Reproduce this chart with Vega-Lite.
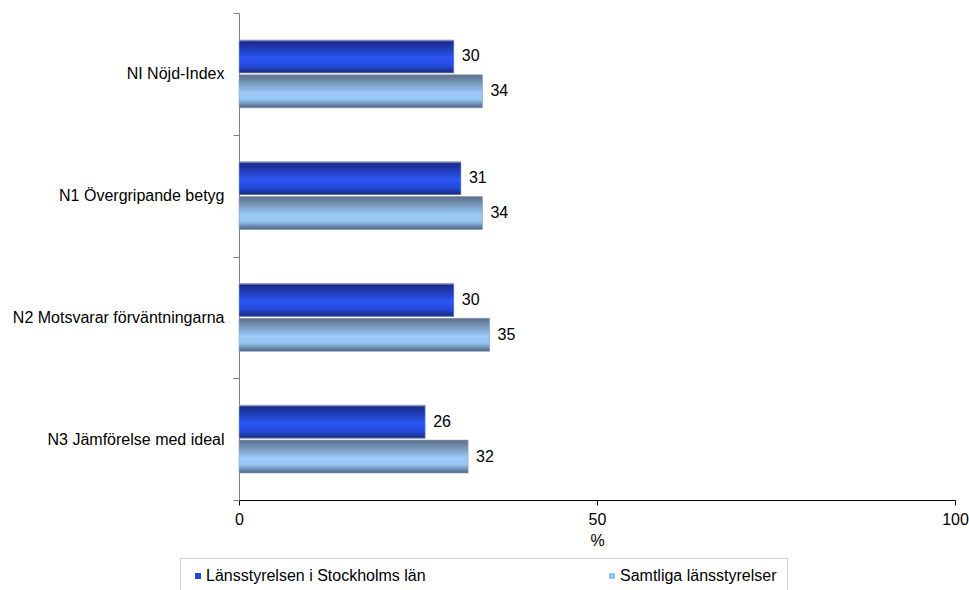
{
  "$schema": "https://vega.github.io/schema/vega-lite/v6.json",
  "width": 716,
  "height": 487,
  "autosize": {"type": "none"},
  "padding": {"left": 239, "top": 13, "right": 14, "bottom": 90},
  "background": "white",
  "config": {
    "font": "Liberation Sans",
    "view": {"stroke": null},
    "axis": {"labelFont": "Liberation Sans", "titleFont": "Liberation Sans"},
    "legend": {"labelFont": "Liberation Sans"}
  },
  "data": {
    "values": [
      {"fraga": "NI Nöjd-Index", "grupp": "Länsstyrelsen i Stockholms län", "procent": 30},
      {"fraga": "NI Nöjd-Index", "grupp": "Samtliga länsstyrelser", "procent": 34},
      {"fraga": "N1 Övergripande betyg", "grupp": "Länsstyrelsen i Stockholms län", "procent": 31},
      {"fraga": "N1 Övergripande betyg", "grupp": "Samtliga länsstyrelser", "procent": 34},
      {"fraga": "N2 Motsvarar förväntningarna", "grupp": "Länsstyrelsen i Stockholms län", "procent": 30},
      {"fraga": "N2 Motsvarar förväntningarna", "grupp": "Samtliga länsstyrelser", "procent": 35},
      {"fraga": "N3 Jämförelse med ideal", "grupp": "Länsstyrelsen i Stockholms län", "procent": 26},
      {"fraga": "N3 Jämförelse med ideal", "grupp": "Samtliga länsstyrelser", "procent": 32}
    ]
  },
  "encoding": {
    "y": {
      "field": "fraga",
      "type": "nominal",
      "sort": null,
      "title": null,
      "scale": {"paddingInner": 0, "paddingOuter": 0},
      "axis": {
        "tickBand": "extent",
        "domainColor": "#808080",
        "tickColor": "#808080",
        "tickSize": 6,
        "labelPadding": 9,
        "labelFontSize": 16,
        "labelColor": "#000000",
        "labelLimit": 300
      }
    },
    "yOffset": {
      "field": "grupp",
      "type": "nominal",
      "sort": null,
      "scale": {"paddingInner": 0.057, "paddingOuter": 0.771}
    },
    "x": {
      "field": "procent",
      "type": "quantitative",
      "title": "%",
      "scale": {"domain": [0, 100], "nice": false},
      "axis": {
        "values": [0, 50, 100],
        "grid": false,
        "labelFlush": false,
        "domainColor": "#000000",
        "tickColor": "#000000",
        "tickSize": 5,
        "labelFontSize": 16,
        "labelColor": "#000000",
        "labelPadding": 6,
        "titleFontSize": 16,
        "titleFontWeight": "normal",
        "titleColor": "#000000",
        "titlePadding": 5
      }
    }
  },
  "layer": [
    {
      "mark": {"type": "bar"},
      "encoding": {
        "color": {
          "field": "grupp",
          "type": "nominal",
          "sort": null,
          "title": null,
          "scale": {"range": ["#2448d8", "#96c2f0"]},
          "legend": {
            "orient": "none",
            "legendX": -59,
            "legendY": 545,
            "direction": "horizontal",
            "columns": 2,
            "columnPadding": 178,
            "symbolType": "square",
            "symbolSize": 36,
            "symbolStrokeWidth": 0,
            "labelFontSize": 16,
            "labelColor": "#000000",
            "labelOffset": 0,
            "labelLimit": 400,
            "padding": 10,
            "strokeColor": "#d0d0d0"
          }
        }
      }
    },
    {
      "transform": [{"filter": "datum.grupp === 'Länsstyrelsen i Stockholms län'"}],
      "mark": {
        "type": "bar",
        "stroke": "#9aa4bc",
        "strokeWidth": 0.6,
        "fill": {
          "gradient": "linear", "x1": 0, "y1": 0, "x2": 0, "y2": 1,
          "stops": [
            {"offset": 0, "color": "#9aa4c8"},
            {"offset": 0.06, "color": "#1a2a8c"},
            {"offset": 0.55, "color": "#2a56f4"},
            {"offset": 0.8, "color": "#2448d8"},
            {"offset": 1, "color": "#18287a"}
          ]
        }
      }
    },
    {
      "transform": [{"filter": "datum.grupp === 'Samtliga länsstyrelser'"}],
      "mark": {
        "type": "bar",
        "stroke": "#9aa4bc",
        "strokeWidth": 0.6,
        "fill": {
          "gradient": "linear", "x1": 0, "y1": 0, "x2": 0, "y2": 1,
          "stops": [
            {"offset": 0, "color": "#5a6e88"},
            {"offset": 0.55, "color": "#9ccbfa"},
            {"offset": 0.75, "color": "#98c4f0"},
            {"offset": 1, "color": "#4c6282"}
          ]
        }
      }
    },
    {
      "mark": {"type": "text", "align": "left", "baseline": "middle", "dx": 8, "fontSize": 16, "color": "#000000"},
      "encoding": {
        "text": {"field": "procent", "type": "quantitative"}
      }
    }
  ]
}
